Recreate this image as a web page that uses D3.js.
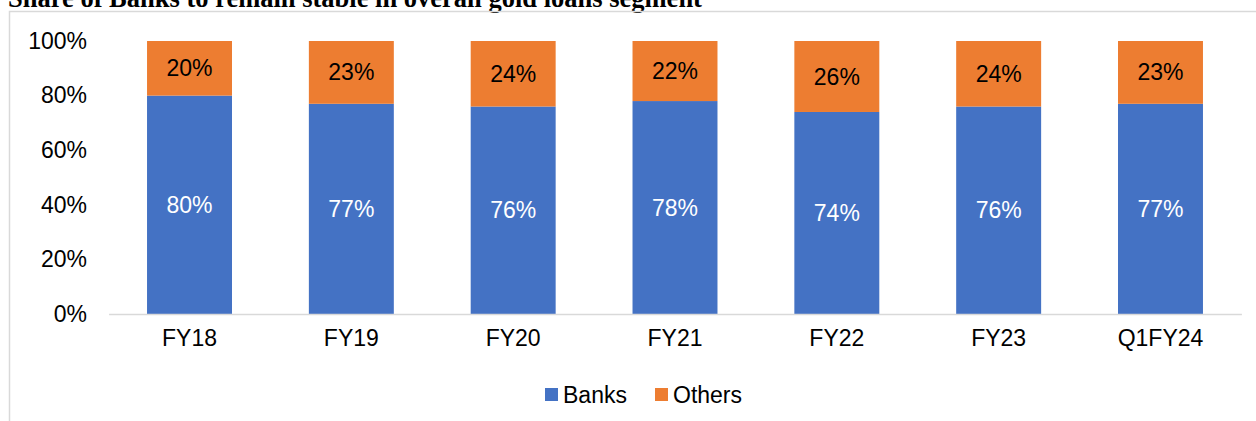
<!DOCTYPE html>
<html lang="en">
<head>
<meta charset="utf-8">
<title>Share of Banks in gold loans</title>
<script src="https://d3js.org/d3.v7.min.js"></script>
<style>
  body { margin: 0; background: #fff; }
  svg { display: block; }
</style>
</head>
<body>
<script>
// data
var categories = ["FY18", "FY19", "FY20", "FY21", "FY22", "FY23", "Q1FY24"];
var banks = [80, 77, 76, 78, 74, 76, 77];
var others = [20, 23, 24, 22, 26, 24, 23];
var yTicks = [0, 20, 40, 60, 80, 100];
var seriesNames = ["Banks", "Others"];
var colors = ["#4472C4", "#ED7D31"];

var W = 1256, H = 421;
var svg = d3.select("body").append("svg")
    .attr("width", W)
    .attr("height", H);

// title (clipped at top like the source)
svg.append("text")
    .attr("x", 8)
    .attr("y", 7)
    .attr("font-family", "Liberation Serif, Times New Roman, serif")
    .attr("font-weight", "bold")
    .attr("font-size", 26.5)
    .attr("fill", "#000")
    .text("Share of Banks to remain stable in overall gold loans segment");

// chart frame
svg.append("path")
    .attr("d", "M9.5," + H + "V11.5H" + W)
    .attr("fill", "none")
    .attr("stroke", "#d9d9d9")
    .attr("stroke-width", 1.5);

var x = d3.scaleBand()
    .domain(categories)
    .range([108.6, 1241.4])
    .paddingInner(0.475)
    .paddingOuter(0.2375);

var y = d3.scaleLinear()
    .domain([0, 100])
    .range([314, 41]);

var rows = categories.map(function(c, i) {
    return { cat: c, Banks: banks[i], Others: others[i] };
});
var stack = d3.stack().keys(seriesNames)(rows);

var font = "Liberation Sans, Arial, sans-serif";
var fs = 23;

// y axis labels
var yAxis = svg.append("g")
    .attr("transform", "translate(100,0)")
    .call(d3.axisLeft(y).tickValues(yTicks).tickSize(0).tickPadding(13)
        .tickFormat(function(d) { return d + "%"; }));
yAxis.select(".domain").remove();
yAxis.selectAll("text")
    .attr("font-family", font)
    .attr("font-size", fs)
    .attr("fill", "#000");

// bars
var layer = svg.selectAll("g.layer")
    .data(stack)
    .enter().append("g")
    .attr("class", "layer")
    .attr("fill", function(d, i) { return colors[i]; });

layer.selectAll("rect")
    .data(function(d) { return d; })
    .enter().append("rect")
    .attr("x", function(d) { return x(d.data.cat); })
    .attr("y", function(d) { return y(d[1]); })
    .attr("width", x.bandwidth())
    .attr("height", function(d) { return y(d[0]) - y(d[1]); });

// value labels
layer.each(function(s, i) {
    d3.select(this).selectAll("text")
        .data(s)
        .enter().append("text")
        .attr("x", function(d) { return x(d.data.cat) + x.bandwidth() / 2; })
        .attr("y", function(d) { return (y(d[0]) + y(d[1])) / 2; })
        .attr("dy", "0.35em")
        .attr("text-anchor", "middle")
        .attr("font-family", font)
        .attr("font-size", fs)
        .attr("fill", i === 0 ? "#fff" : "#000")
        .text(function(d) { return (d[1] - d[0]) + "%"; });
});

// x axis
var xAxis = svg.append("g")
    .attr("transform", "translate(0,314)")
    .call(d3.axisBottom(x).tickSize(0).tickPadding(16));
xAxis.select(".domain")
    .attr("stroke", "#d9d9d9")
    .attr("stroke-width", 1.5);
xAxis.selectAll("text")
    .attr("font-family", font)
    .attr("font-size", fs)
    .attr("fill", "#000");

// legend
var legendX = [545, 655];
var legend = svg.selectAll("g.legend")
    .data(seriesNames)
    .enter().append("g")
    .attr("class", "legend")
    .attr("transform", function(d, i) { return "translate(" + legendX[i] + ",388)"; });
legend.append("rect")
    .attr("width", 13)
    .attr("height", 13)
    .attr("fill", function(d, i) { return colors[i]; });
legend.append("text")
    .attr("x", 18)
    .attr("y", 6.5)
    .attr("dy", "0.35em")
    .attr("font-family", font)
    .attr("font-size", fs)
    .attr("fill", "#000")
    .text(function(d) { return d; });
</script>
</body>
</html>
